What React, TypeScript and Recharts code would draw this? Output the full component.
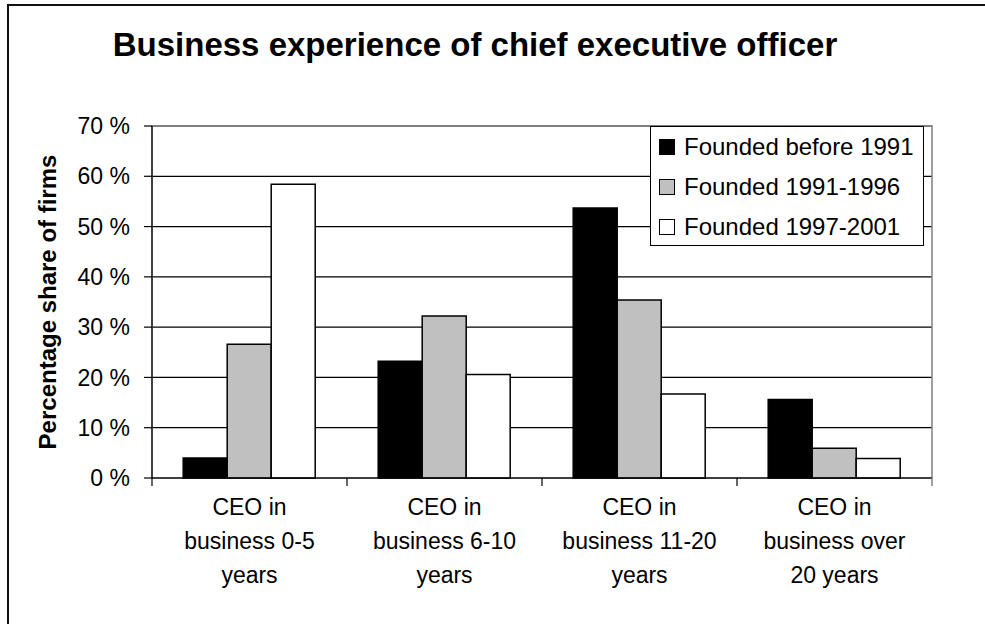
import React from 'react';
import {
  BarChart,
  Bar,
  XAxis,
  YAxis,
  CartesianGrid,
  ReferenceArea,
} from 'recharts';

// categories, split over three lines like the original axis
const categories = [
  ['CEO in', 'business 0-5', 'years'],
  ['CEO in', 'business 6-10', 'years'],
  ['CEO in', 'business 11-20', 'years'],
  ['CEO in', 'business over', '20 years'],
];

const seriesNames = ['Founded before 1991', 'Founded 1991-1996', 'Founded 1997-2001'];
const seriesColors = ['#000000', '#c0c0c0', '#ffffff'];

const before1991 = [4.0, 23.2, 53.7, 15.6];
const founded1991to1996 = [26.6, 32.2, 35.4, 5.9];
const founded1997to2001 = [58.4, 20.6, 16.7, 3.9];

const yTicks = [0, 10, 20, 30, 40, 50, 60, 70];

const data = categories.map((lines, i) => ({
  name: lines.join(' '),
  lines,
  s0: before1991[i],
  s1: founded1991to1996[i],
  s2: founded1997to2001[i],
}));

const FONT = "Arial, 'Liberation Sans', sans-serif";
const W = 985;
const H = 624;
const xAxisHeight = 100;
// axes sit inside the margin, so bottom margin + axis height = 146
const margin = { top: 126, right: 53, bottom: 46, left: 36 };
const yAxisWidth = 116;
const plotWidth = W - margin.left - margin.right - yAxisWidth;
const band = plotWidth / categories.length;

const XTick = (props: any) => {
  const { x, y, payload, index } = props;
  const lines: string[] = data[index]?.lines ?? [String(payload.value)];
  const left = x - band / 2;
  const right = x + band / 2;
  return (
    <g>
      <line x1={left} y1={y} x2={left} y2={y + 8} stroke="#000" strokeWidth={1.2} />
      {index === categories.length - 1 && (
        <line x1={right} y1={y} x2={right} y2={y + 8} stroke="#808080" strokeWidth={1.5} />
      )}
      {lines.map((t, i) => (
        <text
          key={i}
          x={x}
          y={y + 37 + i * 34}
          textAnchor="middle"
          fontSize={23}
          fontFamily={FONT}
          fill="#000"
        >
          {t}
        </text>
      ))}
    </g>
  );
};

const YLabel = (props: any) => {
  const vb = props.viewBox || { x: 0, y: 0, width: 0, height: 0 };
  const cx = 47;
  const cy = vb.y + vb.height / 2;
  return (
    <text
      x={cx}
      y={cy}
      transform={`rotate(-90, ${cx}, ${cy})`}
      textAnchor="middle"
      dominantBaseline="central"
      fontSize={24}
      fontWeight="bold"
      fontFamily={FONT}
      fill="#000"
    >
      Percentage share of firms
    </text>
  );
};

export default function App() {
  return (
    <div
      style={{
        position: 'absolute',
        left: 0,
        top: 0,
        width: W,
        height: H,
        overflow: 'hidden',
        background: '#fff',
        fontFamily: FONT,
      }}
    >
      {/* outer frame, only top and left edges are visible */}
      <div
        style={{
          position: 'absolute',
          left: 7,
          top: 4,
          width: 2000,
          height: 2000,
          borderTop: '2px solid #111',
          borderLeft: '2px solid #111',
          boxSizing: 'border-box',
        }}
      />
      <div
        style={{
          position: 'absolute',
          left: 0,
          top: 26,
          width: 950,
          textAlign: 'center',
          fontSize: 33,
          fontWeight: 'bold',
          color: '#000',
          lineHeight: '38px',
        }}
      >
        Business experience of chief executive officer
      </div>
      <div style={{ position: 'absolute', left: 0, top: 0 }}>
        <BarChart
          width={W}
          height={H}
          data={data}
          margin={margin}
          barCategoryGap="16%"
          barGap={0}
        >
          <CartesianGrid vertical={false} stroke="#000" strokeWidth={1.2} />
          <ReferenceArea y1={0} y2={70} fill="none" stroke="#808080" strokeWidth={1.5} />
          <XAxis
            dataKey="name"
            height={xAxisHeight}
            tickSize={0}
            tickMargin={0}
            tickLine={false}
            axisLine={{ stroke: '#000', strokeWidth: 1.2 }}
            tick={<XTick />}
            interval={0}
          />
          <YAxis
            width={yAxisWidth}
            domain={[0, 70]}
            ticks={yTicks}
            interval={0}
            tickSize={8}
            tickMargin={14}
            tickFormatter={(v: number) => `${v} %`}
            tick={{ fill: '#000', fontSize: 23, fontFamily: FONT }}
            tickLine={{ stroke: '#000', strokeWidth: 1.2 }}
            axisLine={{ stroke: '#000', strokeWidth: 1.2 }}
            label={<YLabel />}
          />
          {['s0', 's1', 's2'].map((key, i) => (
            <Bar
              key={key}
              dataKey={key}
              name={seriesNames[i]}
              fill={seriesColors[i]}
              stroke="#000"
              strokeWidth={1.5}
              isAnimationActive={false}
            />
          ))}
        </BarChart>
      </div>
      {/* legend box */}
      <div
        style={{
          position: 'absolute',
          left: 650,
          top: 126,
          width: 274,
          height: 120,
          border: '1px solid #000',
          background: '#fff',
          boxSizing: 'border-box',
        }}
      >
        {seriesNames.map((n, i) => (
          <div
            key={n}
            style={{
              position: 'absolute',
              left: 8,
              top: i * 40,
              height: 40,
              display: 'flex',
              alignItems: 'center',
              fontSize: 24,
              whiteSpace: 'nowrap',
            }}
          >
            <span
              style={{
                display: 'inline-block',
                width: 14,
                height: 14,
                background: seriesColors[i],
                border: '1px solid #000',
                marginRight: 9,
              }}
            />
            {n}
          </div>
        ))}
      </div>
    </div>
  );
}
